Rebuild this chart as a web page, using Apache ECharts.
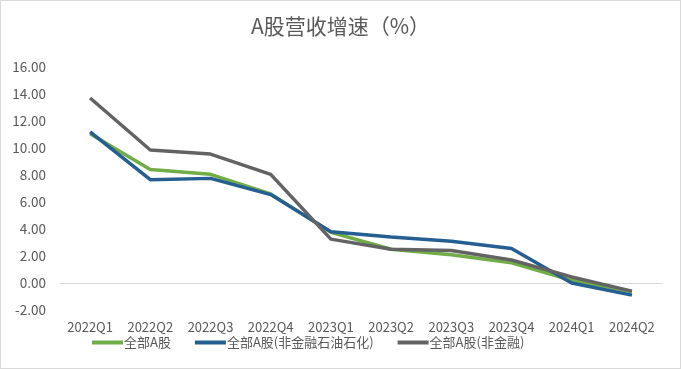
<!DOCTYPE html>
<html><head><meta charset="utf-8">
<script src="https://cdn.jsdelivr.net/npm/echarts@6/dist/echarts.min.js"></script>
<style>html,body{margin:0;padding:0;background:#fff}#c{width:681px;height:369px;box-sizing:border-box;border:1px solid #d9d9d9}</style>
</head><body><div id="c"></div>
<script>
const categories = ['2022Q1','2022Q2','2022Q3','2022Q4','2023Q1','2023Q2','2023Q3','2023Q4','2024Q1','2024Q2'];
const seriesNames = ['全部A股','全部A股(非金融石油石化)','全部A股(非金融)'];
const allA = [11.05, 8.4, 8.05, 6.6, 3.75, 2.5, 2.1, 1.5, 0.2, -0.65];
const allAExFinPetro = [11.2, 7.65, 7.75, 6.55, 3.8, 3.4, 3.1, 2.55, 0.0, -0.9];
const allAExFin = [13.7, 9.85, 9.55, 8.05, 3.25, 2.5, 2.4, 1.7, 0.45, -0.6];
const colors = ['#70AD47','#255E91','#636363'];

const chart = echarts.init(document.getElementById('c'));
const font = '"Noto Sans CJK SC", "Noto Sans", sans-serif';
chart.setOption({
  animation:false,
  color: colors,
  title:{text:'A股营收增速（%）',left:'center',top:10,textStyle:{fontFamily:font,fontSize:21,fontWeight:'normal',color:'#595959'}},
  grid:{left:59,right:18,top:66,bottom:58},
  legend:{bottom:14,left:86,itemWidth:31,itemHeight:4,itemGap:24,icon:'rect',
    textStyle:{fontFamily:font,fontSize:13,color:'#595959',padding:[0,0,0,-4]},
    data:seriesNames},
  xAxis:{type:'category',data:categories,boundaryGap:true,
    axisLine:{onZero:true,lineStyle:{color:'#d9d9d9',width:1}},
    axisTick:{show:false},
    axisLabel:{color:'#595959',fontFamily:font,fontSize:13,margin:11,interval:0}},
  yAxis:{type:'value',min:-2,max:16,interval:2,
    axisLine:{show:false},axisTick:{show:false},splitLine:{show:false},
    axisLabel:{color:'#595959',fontFamily:font,fontSize:13.5,margin:14,formatter:v=>v.toFixed(2)}},
  series:[
    {name:seriesNames[0],type:'line',data:allA,symbol:'none',lineStyle:{width:3.5}},
    {name:seriesNames[1],type:'line',data:allAExFinPetro,symbol:'none',lineStyle:{width:3.5}},
    {name:seriesNames[2],type:'line',data:allAExFin,symbol:'none',lineStyle:{width:3.5}}
  ]
});
</script></body></html>
